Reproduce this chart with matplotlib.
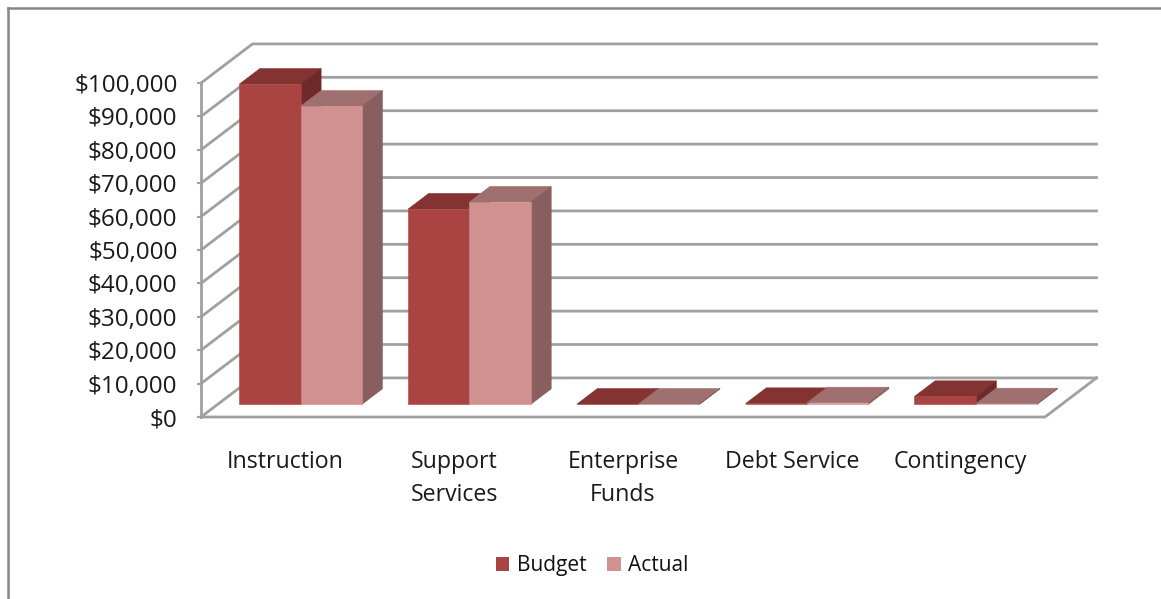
import matplotlib
matplotlib.use("Agg")
import matplotlib.pyplot as plt
from matplotlib.lines import Line2D
from matplotlib.patches import Patch, Polygon

# Werte
categories = ["Instruction", "Support\nServices", "Enterprise\nFunds", "Debt Service", "Contingency"]
budget_values = [95900, 58500, 100, 300, 2400]
actual_values = [89300, 60600, 100, 500, 200]
series_names = ["Budget", "Actual"]
y_ticks = list(range(0, 100001, 10000))

W, H = 1161, 599
DX = 0.305    # Tiefe in Kategorien
DY = 11700    # Tiefe in Werteinheiten
BAR_WIDTH = 0.363
BAR_SHIFT = -0.008
DEPTH_FRONT = 0.32
DEPTH_BACK = 0.72
GRID = "#A0A0A0"

colors = [
    {"front": "#A94442", "top": "#833432", "side": "#6E2A28"},
    {"front": "#D29191", "top": "#A06F6F", "side": "#885E5E"},
]

plt.rcParams["font.family"] = ["Open Sans", "DejaVu Sans"]

fig = plt.figure(figsize=(W / 100, H / 100), dpi=100, facecolor="white")
ax = fig.add_axes([201 / W, 1 - 417 / H, 844 / W, 334 / H])
ax.set_xlim(0, len(categories))
ax.set_ylim(0, 100000)
ax.patch.set_visible(False)
for spine in ax.spines.values():
    spine.set_visible(False)


def proj(x, y, depth):
    """Punkt im Diagramm mit Tiefe 0..1 nach Achsenkoordinaten."""
    return x + depth * DX, y + depth * DY


def wall_line(pts, lw=2.0):
    ax.add_line(Line2D(*zip(*pts), color=GRID, lw=lw, clip_on=False, zorder=1,
                       solid_capstyle="projecting"))


n = len(categories)

# Rueckwand und Seitenwand
for val in y_ticks:
    wall_line([proj(0, val, 0), proj(0, val, 1), proj(n, val, 1)])

# Vorderkante und Boden
wall_line([proj(0, 0, 0), proj(0, 100000, 0)])
wall_line([proj(0, 0, 0), proj(n, 0, 0), proj(n, 0, 1)])


def draw_bar(x0, x1, val, col, z):
    d0, d1 = DEPTH_FRONT, DEPTH_BACK
    top = [proj(x0, val, d0), proj(x1, val, d0), proj(x1, val, d1), proj(x0, val, d1)]
    side = [proj(x1, 0, d0), proj(x1, 0, d1), proj(x1, val, d1), proj(x1, val, d0)]
    front = [proj(x0, 0, d0), proj(x1, 0, d0), proj(x1, val, d0), proj(x0, val, d0)]
    for pts, c in ((top, col["top"]), (side, col["side"]), (front, col["front"])):
        ax.add_patch(Polygon(pts, closed=True, facecolor=c, edgecolor=c, lw=0.4,
                             clip_on=False, zorder=z))


z = 2
for i in range(n):
    start = i + 0.5 - BAR_WIDTH + BAR_SHIFT
    for j, values in enumerate((budget_values, actual_values)):
        x0 = start + j * BAR_WIDTH
        draw_bar(x0, x0 + BAR_WIDTH, values[i], colors[j], z)
        z += 1

# Achsenbeschriftung
ax.set_yticks(y_ticks)
ax.set_yticklabels([f"${v:,}" for v in y_ticks])
ax.set_xticks([i + 0.5 for i in range(n)])
ax.set_xticklabels(categories, va="top", linespacing=1.5)
ax.tick_params(axis="y", length=3, width=1.5, color=GRID, pad=14, labelsize=17.5, labelcolor="#1A1A1A")
ax.tick_params(axis="x", length=0, pad=24, labelsize=16.7, labelcolor="#1A1A1A")

# Legende
handles = [Patch(facecolor=colors[k]["front"], edgecolor="none", label=series_names[k]) for k in range(2)]
fig.legend(handles=handles, loc="center", bbox_to_anchor=(592 / W, 1 - 565.5 / H), ncol=2, frameon=False,
           fontsize=15, handlelength=0.67, handleheight=0.67, handletextpad=0.34, columnspacing=1.0,
           labelcolor="#111111")

# Rahmen links und oben
frame = "#868686"
fig.add_artist(Line2D([7.5 / W, 7.5 / W], [0, 1 - 7.5 / H], color=frame, lw=1.8, transform=fig.transFigure))
fig.add_artist(Line2D([7.5 / W, 1], [1 - 7.5 / H, 1 - 7.5 / H], color=frame, lw=1.8, transform=fig.transFigure))

fig.savefig("out.png", dpi=100, facecolor="white")
